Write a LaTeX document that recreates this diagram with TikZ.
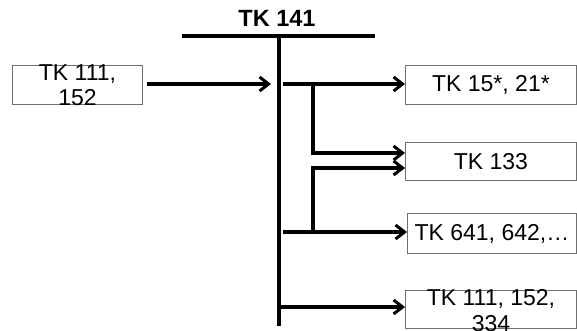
\documentclass[tikz,border=0pt]{standalone}
\usepackage{fontspec}
\setmainfont{Liberation Sans}
\usetikzlibrary{arrows.meta}
\definecolor{boxgray}{RGB}{110,110,110}
\begin{document}
\begin{tikzpicture}[x=1pt,y=-1pt,
  txt/.style={font=\fontsize{23}{25.5}\selectfont, align=center, inner sep=0pt},
  box/.style={draw=boxgray, line width=0.9pt, txt, anchor=north west},
  ln/.style={line width=3.2pt},
  arr/.style={ln, -{Straight Barb[length=9pt,width=14pt,line width=3pt]}}]
\useasboundingbox (0,0) rectangle (577,331);
% title and bar
\node[font=\fontsize{23.5}{26}\selectfont\bfseries, inner sep=0pt] (title) at (277,18) {TK 141};
\coordinate (bl) at (182,36);
\coordinate (br) at (375,36);
\draw[ln] (bl) -- (br);
\coordinate (vtop) at (279,37);
\coordinate (vbot) at (279,326);
\draw[ln] (vtop) -- (vbot);
% boxes
\node[box, minimum width=130pt, minimum height=39pt] (lbox) at (12,65) {};
\node[txt] (ltext) at ([yshift=-0.5pt]lbox.center) {TK 111,\\152};
\node[box, minimum width=171pt, minimum height=39pt] (b1) at (405,65) {TK 15*, 21*};
\node[box, minimum width=171pt, minimum height=38pt] (b2) at (405,142) {TK 133};
\node[box, minimum width=169pt, minimum height=40pt] (b3) at (407,213) {};
\node[txt] (t3) at (b3.center) {TK 641, 642,\ldots};
\node[box, minimum width=171pt, minimum height=38pt] (b4) at (405,290) {};
\node[txt] (t4) at ([yshift=-1pt]b4.center) {TK 111, 152,\\334};
% incoming arrow
\coordinate (inS) at (147,84);
\coordinate (inE) at (271,84);
\draw[arr] (inS) -- (inE);
% branch coordinates
\coordinate (a1) at (283,84);
\coordinate (s1) at (313,84);
\coordinate (s2) at (313,153);
\coordinate (s3) at (313,168);
\coordinate (s4) at (313,232);
\coordinate (a3) at (283,232);
\coordinate (a4) at (280,307);
% arrows to boxes
\draw[arr] (a1) -- (a1 -| b1.west);
\draw[ln] (s1) -- (s2);
\draw[arr] ([xshift=-1.6pt]s2) -- (s2 -| b2.west);
\draw[ln] (s4) -- (s3);
\draw[arr] ([xshift=-1.6pt]s3) -- (s3 -| b2.west);
\draw[arr] (a3) -- (a3 -| b3.west);
\draw[arr] (a4) -- (a4 -| b4.west);
\end{tikzpicture}
\end{document}
